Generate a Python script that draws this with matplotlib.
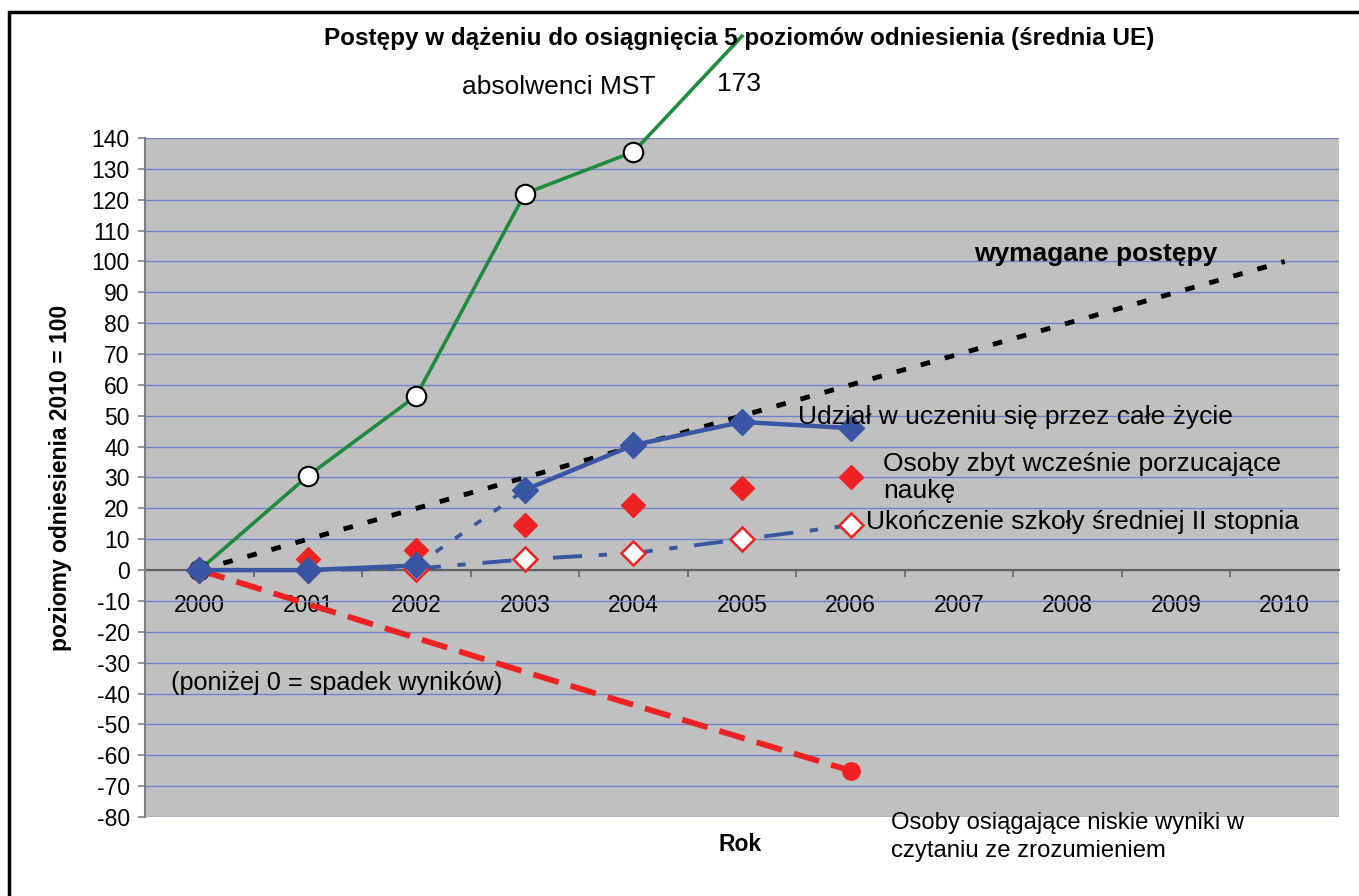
import matplotlib
matplotlib.use("Agg")
import matplotlib.pyplot as plt
from matplotlib.patches import Rectangle
import numpy as np

plt.rcParams['font.family'] = ['Liberation Sans', 'DejaVu Sans']
plt.rcParams['lines.scale_dashes'] = False

# ---- data ----
years = ['2000', '2001', '2002', '2003', '2004', '2005', '2006', '2007', '2008', '2009', '2010']
mst = [0, 30.5, 56.5, 122, 135.5, 173]                 # 2000-2005
udzial = [0, 0, 1.5, 26, 40.5, 48, 46]                  # 2000-2006
early_leavers = [0, 3.5, 6.5, 14.5, 21, 26.5, 30]       # 2000-2006
upper_secondary = [0, 0, 0.5, 3.5, 5.5, 10, 14.5]       # 2000-2006
reading_years = ['2000', '2003', '2006']
reading = [0, -33, -65]
required = [0, 10, 20, 30, 40, 50, 60, 70, 80, 90, 100]
yticks = list(range(-80, 141, 10))

title = "Postępy w dążeniu do osiągnięcia 5 poziomów odniesienia (średnia UE)"

# ---- styling ----
GREEN = '#1E8B3E'
BLUE = '#3A55A4'
RED = '#EE2222'
GRID = '#7082C8'
FS = 16.5
FA = 19

fig = plt.figure(figsize=(13.59, 8.96), dpi=100)
ax = fig.add_axes([145/1359, 1-817/896, (1339-145)/1359, (817-138)/896])
ax.set_facecolor('#C0C0C0')

xpos = {y: i for i, y in enumerate(years)}
x_all = np.arange(len(years))

# required progress
ax.plot(x_all[:len(required)], required, color='black', lw=3.5, dashes=(7, 11), zorder=3)

# low reading
rx = [xpos[y] for y in reading_years]
ax.plot(rx, reading, color=RED, lw=4.2, dashes=(19, 9), marker='o', ms=12.5,
        markevery=[2], zorder=3)

# MST graduates
ax.plot(x_all[:len(mst)], mst, color=GREEN, lw=2.6, marker='o', ms=14,
        mfc='white', mec='black', mew=1.5, markevery=[0, 1, 2, 3, 4],
        clip_on=False, zorder=4)

# early leavers (markers only)
ax.plot(x_all[:len(early_leavers)], early_leavers, ls='none', marker='D', ms=12.5,
        color=RED, zorder=5)

# upper secondary
ax.plot(x_all[:len(upper_secondary)], upper_secondary, color=BLUE, lw=2.8,
        dashes=(21, 12, 6, 12), zorder=5)
ax.plot(x_all[:len(upper_secondary)], upper_secondary, ls='none', marker='D', ms=12,
        mfc='white', mec=RED, mew=1.8, zorder=6)

# lifelong learning
ux = x_all[:len(udzial)]
ax.plot(ux[2:4], udzial[2:4], color=BLUE, lw=2.6, dashes=(6, 11), zorder=7)
ax.plot(ux[0:3], udzial[0:3], color=BLUE, lw=3.2, zorder=7)
ax.plot(ux[3:], udzial[3:], color=BLUE, lw=3.2, zorder=7)
ax.plot(ux, udzial, ls='none', marker='D', ms=13, color=BLUE, zorder=8)

# axes
ax.set_xlim(-0.5, len(years) - 0.5)
ax.set_ylim(-80, 140)
ax.set_yticks(yticks)
ax.set_yticklabels([str(v) for v in yticks])
ax.set_xticks(x_all)
ax.set_xticklabels(years)
ax.set_xticks(x_all[:-1] + 0.5, minor=True)
ax.tick_params(axis='x', which='major', length=0, pad=17, labelsize=FS)
ax.tick_params(axis='x', which='minor', length=5, width=1.2, color='#606060', direction='out')
ax.tick_params(axis='y', length=5, width=1.2, color='#808080', pad=6, labelsize=FS)

ax.grid(axis='y', color=GRID, lw=1.0, zorder=1)
ax.set_axisbelow(True)
for s in ['top', 'right']:
    ax.spines[s].set_visible(False)
ax.spines['left'].set_color('#808080')
ax.spines['left'].set_linewidth(1.5)
ax.spines['bottom'].set_position(('data', 0))
ax.spines['bottom'].set_color('#606060')
ax.spines['bottom'].set_linewidth(1.5)
ax.spines['bottom'].set_zorder(2)

ax.set_ylabel("poziomy odniesienia 2010 = 100", fontsize=FS, fontweight='bold', labelpad=14)

# annotations
ax.text(2.42, 156.5, "absolwenci MST", fontsize=FA, va='center', ha='left')
ax.text(4.77, 157.5, "173", fontsize=FA, va='center', ha='left')
ax.text(7.14, 102.3, "wymagane postępy", fontsize=FA, fontweight='bold', va='center', ha='left')
ax.text(5.52, 49.7, "Udział w uczeniu się przez całe życie", fontsize=FA, va='center', ha='left', zorder=10)
ax.text(6.30, 30.0, "Osoby zbyt wcześnie porzucające\nnaukę", fontsize=FA, va='center', ha='left',
        linespacing=1.15, zorder=10)
ax.text(6.14, 15.6, "Ukończenie szkoły średniej II stopnia", fontsize=FA, va='center', ha='left', zorder=10)
ax.text(-0.26, -36.7, "(poniżej 0 = spadek wyników)", fontsize=18.2, va='center', ha='left', zorder=10)
ax.text(6.37, -86.4, "Osoby osiągające niskie wyniki w\nczytaniu ze zrozumieniem", fontsize=17.2,
        va='center', ha='left', linespacing=1.35, clip_on=False)
ax.text(4.98, -89.0, "Rok", fontsize=16.5, fontweight='bold', va='center', ha='center', clip_on=False)

fig.text(739/1359, 1-38/896, title, fontsize=17.5, fontweight='bold', ha='center', va='center')

# outer frame
fig.patches.append(Rectangle((9/1359, -0.05), 1.1, 1-12/896 + 0.05, transform=fig.transFigure,
                             fill=False, ec='black', lw=2.5, clip_on=False))

fig.savefig('out.png', dpi=100)
